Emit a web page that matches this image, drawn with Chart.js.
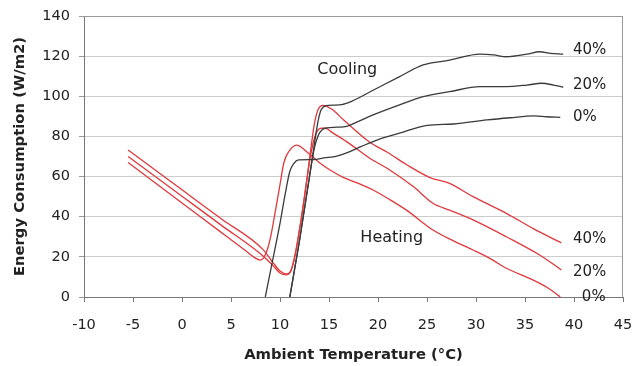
<!DOCTYPE html>
<html>
<head>
<meta charset="utf-8">
<script src="https://cdn.jsdelivr.net/npm/chart.js@4.4.1/dist/chart.umd.min.js"></script>
<style>
  body { margin: 0; background: #fff; }
  canvas { display: block; }
</style>
</head>
<body>
<canvas id="chart" width="634" height="366"></canvas>
<script>
// ambient temperature (°C) / energy consumption (W/m2)
const coolX0 = [8.5, 9.3, 10.0, 10.5, 11.0, 11.4, 11.9, 13.4, 14.5, 15.8, 16.8, 18.3, 19.9, 22.2, 25.0, 27.7, 31.1, 33.5, 35.9, 37.2, 38.6];
const coolY0 = [0, 19.5, 36.7, 50.5, 62.5, 66.5, 68.3, 68.5, 69.3, 70.2, 71.8, 75, 78.2, 81.6, 85.5, 86.2, 88.2, 89.3, 90.2, 89.8, 89.5];

const coolX20 = [11.0, 12.0, 13.06, 13.5, 13.9, 14.3, 14.8, 15.8, 16.8, 18.0, 19.5, 22.2, 24.6, 27.3, 30.4, 33.1, 35.2, 36.7, 37.9, 38.9];
const coolY20 = [0, 28.4, 61.6, 74, 80.5, 83.3, 84.3, 84.6, 85, 87.5, 90.7, 95.7, 99.8, 102.3, 104.8, 104.8, 105.6, 106.5, 105.6, 104.5];

const coolX40 = [11.0, 12.0, 13.06, 13.5, 13.9, 14.2, 14.7, 15.5, 16.3, 17.3, 19.5, 22.2, 24.6, 27.3, 30.4, 31.8, 33.1, 35.2, 36.5, 37.6, 38.9];
const coolY40 = [0, 28.4, 61.6, 76, 88, 93.3, 95.3, 95.6, 95.8, 97.5, 103, 109.8, 115.6, 118, 121, 120.6, 119.7, 121, 122.2, 121.4, 121];

const heatX0 = [-5.5, 0, 4, 6.5, 7.4, 8.0, 8.5, 9.0, 9.5, 10.0, 10.4, 10.9, 11.7, 12.9, 14.0, 15.1, 16.5, 17.8, 19.5, 21.2, 22.9, 25.6, 27.7, 29.7, 31.5, 33.1, 35.8, 37.5, 38.6];
const heatY0 = [67, 46.8, 32.2, 23, 19.6, 18.4, 21, 29, 42, 56, 67, 72.5, 75.7, 71.6, 67, 63.3, 59.5, 57, 53.3, 48.5, 43.3, 33.4, 28, 23.4, 19, 14.3, 8.5, 4, 0];

const heatX20 = [-5.5, 0, 4, 8.3, 9.3, 10.0, 10.6, 11.1, 11.5, 12.2, 12.7, 13.1, 13.6, 14.1, 14.6, 15.3, 16.8, 19.2, 21.2, 23.6, 25.6, 27.3, 29.7, 33.1, 36.5, 38.7];
const heatY20 = [70, 50.2, 35.8, 20.3, 15.5, 12, 11, 13, 20, 40, 57, 70, 80.5, 84, 84.2, 82, 77.4, 69, 63.3, 55, 46.7, 43.3, 38.4, 30, 20.9, 13.5];

const heatX40 = [-5.5, 0, 4, 8.3, 9.3, 10.0, 10.7, 11.1, 11.5, 12.2, 12.7, 13.1, 13.5, 13.9, 14.4, 15.3, 16.5, 19.2, 21.0, 22.9, 25.3, 27.3, 29.7, 33.1, 35.8, 38.7];
const heatY40 = [73.2, 53.4, 39, 23.5, 17, 13, 11.5, 13, 20, 40, 57, 72, 86, 93.5, 95.5, 93.5, 88.2, 77, 72, 66, 59.5, 56.6, 50, 41.7, 34.2, 27];

// text placed on the plot (data coords: left edge x, middle y)
const noteText = ["Cooling", "Heating", "40%", "20%", "0%", "40%", "20%", "0%"];
const noteX = [13.8, 18.2, 39.9, 39.9, 39.9, 39.9, 39.9, 40.8];
const noteY = [113, 29.4, 123, 105.8, 89.8, 28.9, 12.2, 0];

const FONT = "'DejaVu Sans', sans-serif";
const RED = "#e2383c";
const DARK = "#3a3a3a";

const pts = (xs, ys) => xs.map((x, i) => ({ x: x, y: ys[i] }));

function series(xs, ys, color) {
  return {
    data: pts(xs, ys),
    showLine: true,
    borderColor: color,
    borderWidth: 1.3,
    pointRadius: 0,
    cubicInterpolationMode: "monotone",
  };
}

const framePlugin = {
  id: "frame",
  beforeDatasetsDraw(chart) {
    const { ctx, chartArea: a } = chart;
    ctx.save();
    ctx.strokeStyle = "#9a9a9a";
    ctx.lineWidth = 1;
    ctx.beginPath();
    ctx.moveTo(a.left, a.top + 0.5);
    ctx.lineTo(a.right - 0.5, a.top + 0.5);
    ctx.lineTo(a.right - 0.5, a.bottom);
    ctx.stroke();
    ctx.restore();
  },
  afterDatasetsDraw(chart) {
    const { ctx, scales } = chart;
    ctx.save();
    ctx.fillStyle = "#222";
    ctx.textBaseline = "middle";
    ctx.textAlign = "left";
    noteText.forEach((t, i) => {
      ctx.font = (i < 2 ? "16px " : "15px ") + FONT;
      ctx.fillText(t, scales.x.getPixelForValue(noteX[i]), scales.y.getPixelForValue(noteY[i]));
    });
    ctx.restore();
  }
};

new Chart(document.getElementById("chart"), {
  type: "scatter",
  data: {
    datasets: [
      series(coolX0, coolY0, DARK),
      series(coolX20, coolY20, DARK),
      series(coolX40, coolY40, DARK),
      series(heatX0, heatY0, RED),
      series(heatX20, heatY20, RED),
      series(heatX40, heatY40, RED),
    ]
  },
  options: {
    responsive: false,
    animation: false,
    layout: { padding: { top: 16, right: 11, left: 0, bottom: 0 } },
    plugins: { legend: { display: false }, tooltip: { enabled: false } },
    scales: {
      x: {
        type: "linear",
        min: -10, max: 45,
        afterFit: (s) => { s.height = 69; s.paddingLeft = 0; s.paddingRight = 0; },
        ticks: { stepSize: 5, color: "#222", font: { family: FONT, size: 14.5 }, padding: 15 },
        grid: { drawOnChartArea: false, drawTicks: true, tickLength: 5, color: "#777" },
        border: { color: "#777" },
        title: {
          display: true, text: "Ambient Temperature (°C)", color: "#222",
          font: { family: FONT, size: 14.8, weight: "bold" }, padding: { top: 0, bottom: 2 }
        }
      },
      y: {
        min: 0, max: 140,
        afterFit: (s) => { s.width = 84; s.paddingTop = 0; s.paddingBottom = 0; },
        ticks: { stepSize: 20, color: "#222", font: { family: FONT, size: 14.5 }, padding: 9 },
        grid: { color: "#cccccc", tickColor: "#999", tickLength: 5 },
        border: { color: "#777" },
        title: {
          display: true, text: "Energy Consumption (W/m2)", color: "#222",
          font: { family: FONT, size: 14.8, weight: "bold" }, padding: { top: 11, bottom: 0 }
        }
      }
    }
  },
  plugins: [framePlugin]
});
</script>
</body>
</html>
